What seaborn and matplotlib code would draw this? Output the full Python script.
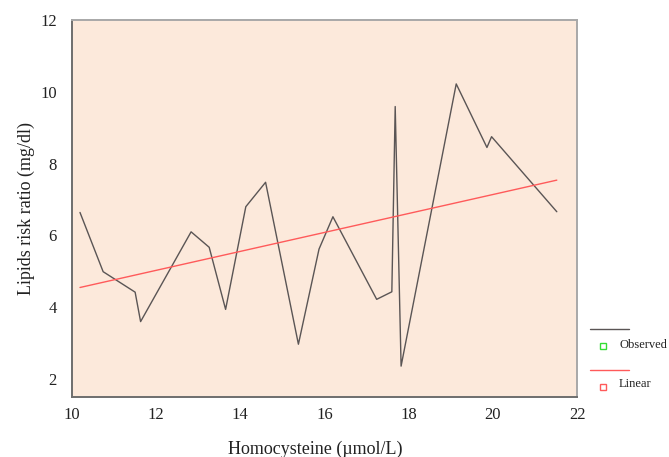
import numpy as np
import pandas as pd
import matplotlib
matplotlib.use('Agg')
import matplotlib.pyplot as plt
import seaborn as sns
from matplotlib.lines import Line2D

# --- dados ---
homocysteine = [10.19, 10.74, 11.50, 11.63, 12.83, 13.26, 13.65, 14.13, 14.60, 15.38,
                15.87, 16.20, 17.24, 17.60, 17.68, 17.82, 19.13, 19.86, 19.97, 21.52]
lipids_ratio = [6.64, 4.99, 4.42, 3.60, 6.10, 5.67, 3.94, 6.80, 7.48, 2.97,
                5.62, 6.52, 4.22, 4.43, 9.59, 2.36, 10.22, 8.45, 8.75, 6.66]

# reta "Linear" (ajuste), extremos
linear_x = [10.19, 21.52]
linear_y = [4.55, 7.54]

x_ticks = [10, 12, 14, 16, 18, 20, 22]
y_ticks = [2, 4, 6, 8, 10, 12]

sns.set_style('white')
plt.rcParams['font.family'] = ['Liberation Serif', 'DejaVu Serif']

df_obs = pd.DataFrame({'x': homocysteine, 'y': lipids_ratio})
df_lin = pd.DataFrame({'x': linear_x, 'y': linear_y})

fig = plt.figure(figsize=(6.69, 4.57), dpi=100)
ax = fig.add_axes([72 / 669, 1 - 397 / 457, 505 / 669, 377 / 457])
ax.set_facecolor('#fce9db')

sns.lineplot(data=df_obs, x='x', y='y', ax=ax, color='#5a5555', linewidth=1.0,
             sort=False, estimator=None)
sns.lineplot(data=df_lin, x='x', y='y', ax=ax, color='#ff5a5a', linewidth=1.0,
             estimator=None)

ax.set_xlim(10, 22)
ax.set_ylim(1.5, 12)
ax.set_xticks(x_ticks)
ax.set_yticks(y_ticks)
ax.tick_params(axis='both', length=0, labelsize=12, colors='#222222')
ax.tick_params(axis='y', pad=11)
ax.tick_params(axis='x', pad=7)
ax.set_xlabel('Homocysteine (\u00b5mol/L)', fontsize=13, color='#222222')
ax.xaxis.set_label_coords(0.481, -0.115)
ax.set_ylabel('Lipids risk ratio (mg/dl)', fontsize=13, color='#222222', labelpad=4)

for side in ['left', 'bottom']:
    ax.spines[side].set_color('#6e6e6e')
    ax.spines[side].set_linewidth(1.4)
for side in ['top', 'right']:
    ax.spines[side].set_color('#a8a8a8')
    ax.spines[side].set_linewidth(1.4)

# legenda manual fora do gráfico
def fx(px):
    return px / 669

def fy(py):
    return 1 - py / 457

fig.add_artist(Line2D([fx(590), fx(629)], [fy(329), fy(329)], color='#5a5555', linewidth=1.0))
fig.add_artist(Line2D([fx(603)], [fy(346)], marker='s', markersize=4.5, markerfacecolor='none',
                      markeredgecolor='#33dd33', markeredgewidth=1.0, linestyle='none'))
fig.text(fx(619), fy(345), 'Observed', fontsize=9, va='center', ha='left', color='#222222')

fig.add_artist(Line2D([fx(590), fx(629)], [fy(370), fy(370)], color='#ff5a5a', linewidth=1.0))
fig.add_artist(Line2D([fx(603)], [fy(387)], marker='s', markersize=4.5, markerfacecolor='none',
                      markeredgecolor='#ff5a5a', markeredgewidth=1.0, linestyle='none'))
fig.text(fx(619), fy(384), 'Linear', fontsize=9, va='center', ha='left', color='#222222')

fig.savefig('out.png', dpi=100)
